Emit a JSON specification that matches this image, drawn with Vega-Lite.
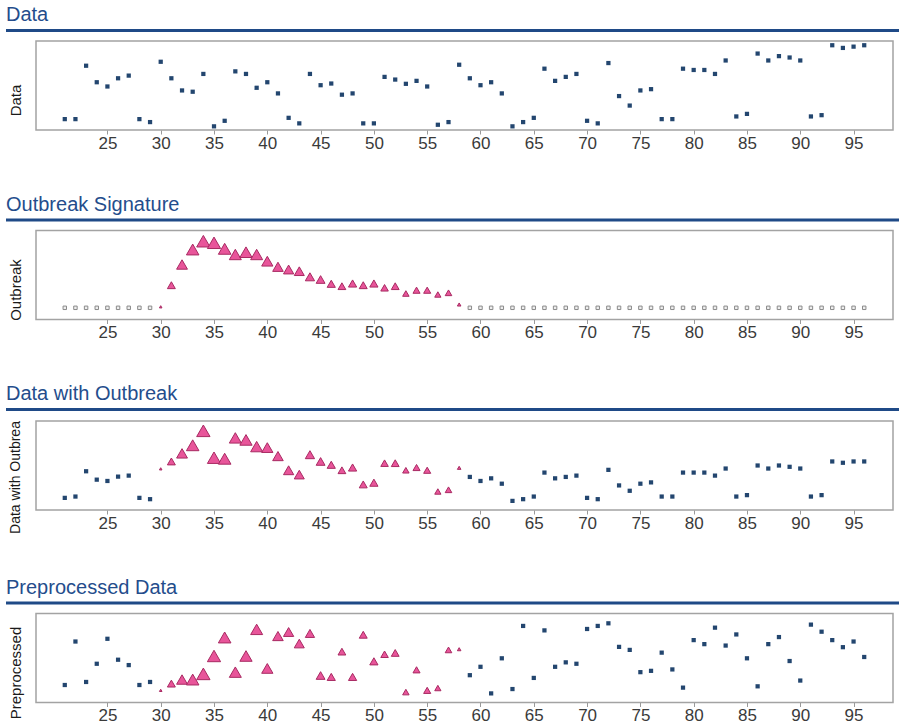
{
  "$schema": "https://vega.github.io/schema/vega-lite/v6.json",
  "background": "white",
  "padding": {"left": 6, "top": 5, "right": 0, "bottom": 0},
  "autosize": {"type": "pad"},
  "datasets": {
    "days": [
      {"d":21,"data":11,"ob":0,"dwo":12,"pre":17.3},
      {"d":22,"data":11,"ob":0,"dwo":13.3,"pre":60.3},
      {"d":23,"data":65,"ob":0,"dwo":38.3,"pre":20.3},
      {"d":24,"data":48.3,"ob":0,"dwo":30,"pre":38.3},
      {"d":25,"data":44,"ob":0,"dwo":28.7,"pre":63},
      {"d":26,"data":52.3,"ob":0,"dwo":33,"pre":42.3},
      {"d":27,"data":55,"ob":0,"dwo":34,"pre":37},
      {"d":28,"data":11,"ob":0,"dwo":12,"pre":17.3},
      {"d":29,"data":8,"ob":0,"dwo":10.7,"pre":20.3},
      {"d":30,"data":69,"ob":1,"dwo":40.7,"pre":12},
      {"d":31,"data":52.3,"ob":22.6,"dwo":48,"pre":18.7},
      {"d":32,"data":40,"ob":43.3,"dwo":56,"pre":22.7},
      {"d":33,"data":38.7,"ob":58.3,"dwo":64,"pre":22.7},
      {"d":34,"data":56.7,"ob":66.6,"dwo":78.3,"pre":28.3},
      {"d":35,"data":3.7,"ob":65,"dwo":51.7,"pre":46},
      {"d":36,"data":9.3,"ob":59,"dwo":50.7,"pre":64.3},
      {"d":37,"data":59.3,"ob":53.3,"dwo":71.3,"pre":30},
      {"d":38,"data":56.7,"ob":55.6,"dwo":69.3,"pre":46},
      {"d":39,"data":42.7,"ob":53.3,"dwo":62.7,"pre":72.3},
      {"d":40,"data":48.3,"ob":46.6,"dwo":61.7,"pre":33.7},
      {"d":41,"data":37,"ob":41,"dwo":53.3,"pre":65.7},
      {"d":42,"data":12.3,"ob":38.3,"dwo":39.3,"pre":69.7},
      {"d":43,"data":6.7,"ob":36.6,"dwo":35,"pre":58.3},
      {"d":44,"data":56.7,"ob":31,"dwo":54.7,"pre":68.3},
      {"d":45,"data":45.3,"ob":28.3,"dwo":48,"pre":26.7},
      {"d":46,"data":47,"ob":24,"dwo":44.7,"pre":25.3},
      {"d":47,"data":35.7,"ob":21.6,"dwo":39.3,"pre":50.3},
      {"d":48,"data":37,"ob":24.3,"dwo":42,"pre":25.3},
      {"d":49,"data":6.7,"ob":22.6,"dwo":25.3,"pre":67},
      {"d":50,"data":6.7,"ob":24.3,"dwo":27,"pre":40.7},
      {"d":51,"data":53.7,"ob":20,"dwo":46.3,"pre":47.7},
      {"d":52,"data":51,"ob":21.6,"dwo":46.3,"pre":49},
      {"d":53,"data":46.7,"ob":14.3,"dwo":39.3,"pre":10.3},
      {"d":54,"data":49.7,"ob":17.6,"dwo":42,"pre":32.3},
      {"d":55,"data":44,"ob":17.6,"dwo":39.3,"pre":12},
      {"d":56,"data":5.3,"ob":13.3,"dwo":18.3,"pre":14.3},
      {"d":57,"data":8,"ob":15,"dwo":20,"pre":52},
      {"d":58,"data":66,"ob":3.3,"dwo":41.7,"pre":52.7},
      {"d":59,"data":52.3,"ob":0,"dwo":32.7,"pre":27},
      {"d":60,"data":45.3,"ob":0,"dwo":28.7,"pre":35.3},
      {"d":61,"data":48.3,"ob":0,"dwo":31.3,"pre":9},
      {"d":62,"data":37,"ob":0,"dwo":26,"pre":43.7},
      {"d":63,"data":3.7,"ob":0,"dwo":9,"pre":13.3},
      {"d":64,"data":8,"ob":0,"dwo":10.7,"pre":75.7},
      {"d":65,"data":12.3,"ob":0,"dwo":13.3,"pre":24.3},
      {"d":66,"data":62,"ob":0,"dwo":37,"pre":71.3},
      {"d":67,"data":49.7,"ob":0,"dwo":31.3,"pre":35.3},
      {"d":68,"data":53.7,"ob":0,"dwo":32.7,"pre":39.7},
      {"d":69,"data":56.7,"ob":0,"dwo":34,"pre":38.3},
      {"d":70,"data":9.3,"ob":0,"dwo":12,"pre":72.7},
      {"d":71,"data":6.7,"ob":0,"dwo":10.7,"pre":75.7},
      {"d":72,"data":67.7,"ob":0,"dwo":39.7,"pre":78.3},
      {"d":73,"data":34.3,"ob":0,"dwo":24.3,"pre":55},
      {"d":74,"data":24.7,"ob":0,"dwo":19,"pre":52},
      {"d":75,"data":40,"ob":0,"dwo":26,"pre":30},
      {"d":76,"data":41.3,"ob":0,"dwo":27.3,"pre":31.3},
      {"d":77,"data":11,"ob":0,"dwo":13.3,"pre":49.3},
      {"d":78,"data":11,"ob":0,"dwo":13.3,"pre":32.7},
      {"d":79,"data":62,"ob":0,"dwo":37,"pre":14.7},
      {"d":80,"data":60.7,"ob":0,"dwo":37,"pre":61.7},
      {"d":81,"data":60.7,"ob":0,"dwo":37,"pre":57.7},
      {"d":82,"data":56.7,"ob":0,"dwo":34,"pre":74},
      {"d":83,"data":70.3,"ob":0,"dwo":41,"pre":56.3},
      {"d":84,"data":13.7,"ob":0,"dwo":13.3,"pre":67.3},
      {"d":85,"data":16.3,"ob":0,"dwo":14.7,"pre":43.7},
      {"d":86,"data":77.3,"ob":0,"dwo":44,"pre":16},
      {"d":87,"data":70.3,"ob":0,"dwo":41,"pre":57.7},
      {"d":88,"data":74.7,"ob":0,"dwo":44,"pre":64.7},
      {"d":89,"data":73.3,"ob":0,"dwo":42.7,"pre":41},
      {"d":90,"data":70.3,"ob":0,"dwo":41,"pre":21.7},
      {"d":91,"data":13.7,"ob":0,"dwo":13.3,"pre":77},
      {"d":92,"data":15,"ob":0,"dwo":14.7,"pre":70},
      {"d":93,"data":85.7,"ob":0,"dwo":48,"pre":61.7},
      {"d":94,"data":83,"ob":0,"dwo":46.7,"pre":54.7},
      {"d":95,"data":84.3,"ob":0,"dwo":48,"pre":60.3},
      {"d":96,"data":85.7,"ob":0,"dwo":48,"pre":45}
    ]
  },
  "spacing": 42.5,
  "vconcat": [
    {
      "spacing": 8,
      "vconcat": [
        {"data": {"values": []}, "width": 893, "height": 3, "title": "Data",
         "mark": {"type": "point", "opacity": 0}, "encoding": {},
         "view": {"fill": "#1f4a87", "stroke": null}},
        {"spacing": 0, "hconcat": [
          {"data": {"values": []}, "width": 1, "height": 89,
           "mark": {"type": "point", "opacity": 0}, "encoding": {}, "view": {"stroke": null}},
          {"data": {"name": "days"}, "width": 857, "height": 89,
           "mark": {"type": "point", "shape": "square", "filled": true, "size": 18, "color": "#23466f", "opacity": 1},
           "encoding": {
             "x": {"field": "d", "type": "quantitative", "title": null,
                   "scale": {"domain": [18.3, 98.7], "nice": false, "zero": false},
                   "axis": {"values": [25,30,35,40,45,50,55,60,65,70,75,80,85,90,95]}},
             "y": {"field": "data", "type": "quantitative", "title": "Data",
                   "scale": {"domain": [0, 90], "nice": false, "zero": false},
                   "axis": {"titleY": 59}}
           }}
        ]}
      ]
    },
    {
      "spacing": 8,
      "vconcat": [
        {"data": {"values": []}, "width": 893, "height": 3, "title": "Outbreak Signature",
         "mark": {"type": "point", "opacity": 0}, "encoding": {},
         "view": {"fill": "#1f4a87", "stroke": null}},
        {"spacing": 0, "hconcat": [
          {"data": {"values": []}, "width": 1, "height": 89,
           "mark": {"type": "point", "opacity": 0}, "encoding": {}, "view": {"stroke": null}},
          {"data": {"name": "days"}, "width": 857, "height": 89,
           "encoding": {
             "x": {"field": "d", "type": "quantitative", "title": null,
                   "scale": {"domain": [18.3, 98.7], "nice": false, "zero": false},
                   "axis": {"values": [25,30,35,40,45,50,55,60,65,70,75,80,85,90,95]}},
             "y": {"field": "ob", "type": "quantitative", "title": "Outbreak",
                   "scale": {"domain": [-11.7, 77.3], "nice": false, "zero": false},
                   "axis": {"titleY": 59}}
           },
           "layer": [
             {"transform": [{"filter": "datum.ob == 0"}],
              "mark": {"type": "point", "shape": "square", "filled": true, "size": 12, "fill": "#eeeeee", "stroke": "#8a8a8a", "strokeWidth": 1, "opacity": 1}},
             {"transform": [{"filter": "datum.ob > 0"}],
              "mark": {"type": "point", "shape": "triangle-up", "filled": true, "fill": "#e8559a", "stroke": "#a82a62", "strokeWidth": 1, "opacity": 1},
              "encoding": {"size": {"field": "ob", "type": "quantitative", "scale": {"domain": [0, 67], "range": [4, 180]}, "legend": null}}}
           ]}
        ]}
      ]
    },
    {
      "spacing": 8,
      "vconcat": [
        {"data": {"values": []}, "width": 893, "height": 3, "title": "Data with Outbreak",
         "mark": {"type": "point", "opacity": 0}, "encoding": {},
         "view": {"fill": "#1f4a87", "stroke": null}},
        {"spacing": 0, "hconcat": [
          {"data": {"values": []}, "width": 1, "height": 89,
           "mark": {"type": "point", "opacity": 0}, "encoding": {}, "view": {"stroke": null}},
          {"data": {"name": "days"}, "width": 857, "height": 89,
           "encoding": {
             "x": {"field": "d", "type": "quantitative", "title": null,
                   "scale": {"domain": [18.3, 98.7], "nice": false, "zero": false},
                   "axis": {"values": [25,30,35,40,45,50,55,60,65,70,75,80,85,90,95]}},
             "y": {"field": "dwo", "type": "quantitative", "title": "Data with Outbrea",
                   "scale": {"domain": [0, 88], "nice": false, "zero": false},
                   "axis": {"titleY": 56, "titleFontSize": 14, "titlePadding": 14}}
           },
           "layer": [
             {"transform": [{"filter": "datum.ob == 0"}],
              "mark": {"type": "point", "shape": "square", "filled": true, "size": 18, "color": "#23466f", "opacity": 1}},
             {"transform": [{"filter": "datum.ob > 0"}],
              "mark": {"type": "point", "shape": "triangle-up", "filled": true, "fill": "#e8559a", "stroke": "#a82a62", "strokeWidth": 1, "opacity": 1},
              "encoding": {"size": {"field": "ob", "type": "quantitative", "scale": {"domain": [0, 67], "range": [4, 180]}, "legend": null}}}
           ]}
        ]}
      ]
    },
    {
      "spacing": 8,
      "vconcat": [
        {"data": {"values": []}, "width": 893, "height": 3, "title": "Preprocessed Data",
         "mark": {"type": "point", "opacity": 0}, "encoding": {},
         "view": {"fill": "#1f4a87", "stroke": null}},
        {"spacing": 0, "hconcat": [
          {"data": {"values": []}, "width": 1, "height": 89,
           "mark": {"type": "point", "opacity": 0}, "encoding": {}, "view": {"stroke": null}},
          {"data": {"name": "days"}, "width": 857, "height": 89,
           "encoding": {
             "x": {"field": "d", "type": "quantitative", "title": null,
                   "scale": {"domain": [18.3, 98.7], "nice": false, "zero": false},
                   "axis": {"values": [25,30,35,40,45,50,55,60,65,70,75,80,85,90,95]}},
             "y": {"field": "pre", "type": "quantitative", "title": "Preprocessed",
                   "scale": {"domain": [0, 88], "nice": false, "zero": false},
                   "axis": {"titleY": 59}}
           },
           "layer": [
             {"transform": [{"filter": "datum.ob == 0"}],
              "mark": {"type": "point", "shape": "square", "filled": true, "size": 18, "color": "#23466f", "opacity": 1}},
             {"transform": [{"filter": "datum.ob > 0"}],
              "mark": {"type": "point", "shape": "triangle-up", "filled": true, "fill": "#e8559a", "stroke": "#a82a62", "strokeWidth": 1, "opacity": 1},
              "encoding": {"size": {"field": "ob", "type": "quantitative", "scale": {"domain": [0, 67], "range": [4, 180]}, "legend": null}}}
           ]}
        ]}
      ]
    }
  ],
  "config": {
    "view": {"stroke": "#a3a3a3", "strokeWidth": 1.5},
    "axis": {"grid": false, "domain": false},
    "axisX": {"tickColor": "#9a9a9a", "tickSize": 4, "tickWidth": 1, "labelFont": "Liberation Sans Narrow, Liberation Sans", "labelFontSize": 17, "labelColor": "#3a3a3a", "labelPadding": 1},
    "axisY": {"ticks": false, "labels": false, "titleFont": "Liberation Sans", "titleFontSize": 15, "titleFontWeight": "normal", "titleColor": "#1a1a1a", "titlePadding": 13, "minExtent": 0},
    "title": {"font": "Liberation Sans", "fontSize": 20, "fontWeight": "normal", "color": "#244d8c", "anchor": "start", "baseline": "alphabetic", "offset": 4, "frame": "group"}
  }
}
